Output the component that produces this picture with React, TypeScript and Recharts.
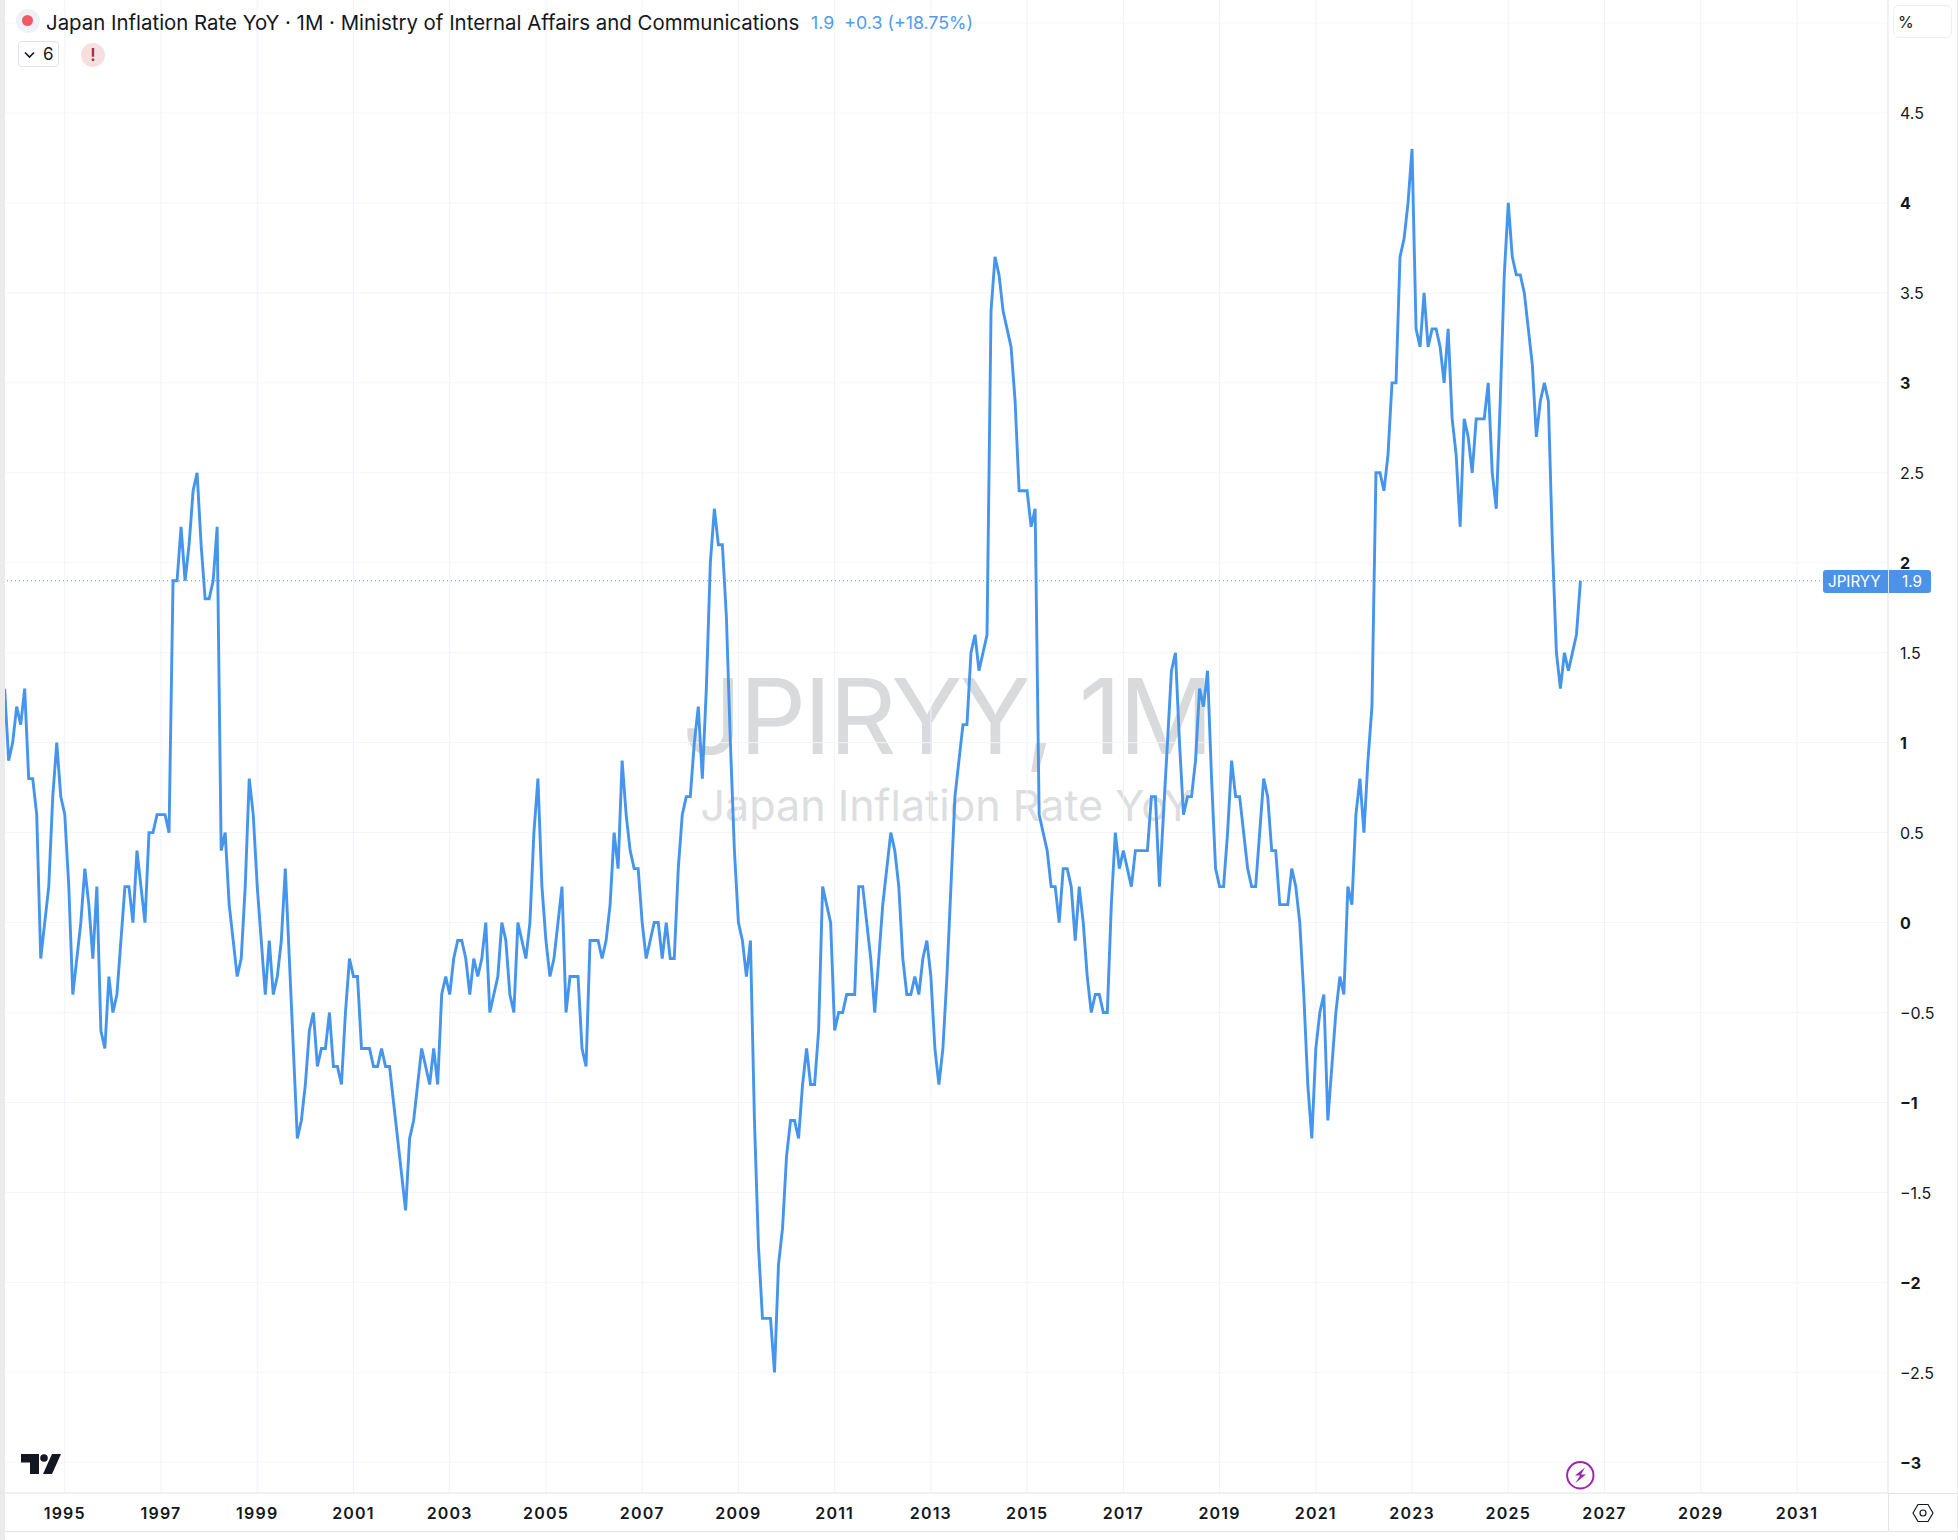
import { LineChart, Line, XAxis, YAxis, CartesianGrid, ReferenceLine } from "recharts";

// monthly values
const y1993 = [1.3, 0.9, 1.0]; // Oct-Dec
const y1994 = [1.2, 1.1, 1.3, 0.8, 0.8, 0.6, -0.2, 0, 0.2, 0.7, 1.0, 0.7];
const y1995 = [0.6, 0.2, -0.4, -0.2, 0, 0.3, 0.1, -0.2, 0.2, -0.6, -0.7, -0.3];
const y1996 = [-0.5, -0.4, -0.1, 0.2, 0.2, 0, 0.4, 0.2, 0, 0.5, 0.5, 0.6];
const y1997 = [0.6, 0.6, 0.5, 1.9, 1.9, 2.2, 1.9, 2.1, 2.4, 2.5, 2.1, 1.8];
const y1998 = [1.8, 1.9, 2.2, 0.4, 0.5, 0.1, -0.1, -0.3, -0.2, 0.2, 0.8, 0.6];
const y1999 = [0.2, -0.1, -0.4, -0.1, -0.4, -0.3, -0.1, 0.3, -0.2, -0.7, -1.2, -1.1];
const y2000 = [-0.9, -0.6, -0.5, -0.8, -0.7, -0.7, -0.5, -0.8, -0.8, -0.9, -0.5, -0.2];
const y2001 = [-0.3, -0.3, -0.7, -0.7, -0.7, -0.8, -0.8, -0.7, -0.8, -0.8, -1.0, -1.2];
const y2002 = [-1.4, -1.6, -1.2, -1.1, -0.9, -0.7, -0.8, -0.9, -0.7, -0.9, -0.4, -0.3];
const y2003 = [-0.4, -0.2, -0.1, -0.1, -0.2, -0.4, -0.2, -0.3, -0.2, 0, -0.5, -0.4];
const y2004 = [-0.3, 0, -0.1, -0.4, -0.5, 0, -0.1, -0.2, 0, 0.5, 0.8, 0.2];
const y2005 = [-0.1, -0.3, -0.2, 0, 0.2, -0.5, -0.3, -0.3, -0.3, -0.7, -0.8, -0.1];
const y2006 = [-0.1, -0.1, -0.2, -0.1, 0.1, 0.5, 0.3, 0.9, 0.6, 0.4, 0.3, 0.3];
const y2007 = [0, -0.2, -0.1, 0, 0, -0.2, 0, -0.2, -0.2, 0.3, 0.6, 0.7];
const y2008 = [0.7, 1.0, 1.2, 0.8, 1.3, 2.0, 2.3, 2.1, 2.1, 1.7, 1.0, 0.4];
const y2009 = [0, -0.1, -0.3, -0.1, -1.1, -1.8, -2.2, -2.2, -2.2, -2.5, -1.9, -1.7];
const y2010 = [-1.3, -1.1, -1.1, -1.2, -0.9, -0.7, -0.9, -0.9, -0.6, 0.2, 0.1, 0];
const y2011 = [-0.6, -0.5, -0.5, -0.4, -0.4, -0.4, 0.2, 0.2, 0, -0.2, -0.5, -0.2];
const y2012 = [0.1, 0.3, 0.5, 0.4, 0.2, -0.2, -0.4, -0.4, -0.3, -0.4, -0.2, -0.1];
const y2013 = [-0.3, -0.7, -0.9, -0.7, -0.3, 0.2, 0.7, 0.9, 1.1, 1.1, 1.5, 1.6];
const y2014 = [1.4, 1.5, 1.6, 3.4, 3.7, 3.6, 3.4, 3.3, 3.2, 2.9, 2.4, 2.4];
const y2015 = [2.4, 2.2, 2.3, 0.6, 0.5, 0.4, 0.2, 0.2, 0, 0.3, 0.3, 0.2];
const y2016 = [-0.1, 0.2, 0, -0.3, -0.5, -0.4, -0.4, -0.5, -0.5, 0.1, 0.5, 0.3];
const y2017 = [0.4, 0.3, 0.2, 0.4, 0.4, 0.4, 0.4, 0.7, 0.7, 0.2, 0.6, 1.0];
const y2018 = [1.4, 1.5, 1.0, 0.6, 0.7, 0.7, 0.9, 1.3, 1.2, 1.4, 0.8, 0.3];
const y2019 = [0.2, 0.2, 0.5, 0.9, 0.7, 0.7, 0.5, 0.3, 0.2, 0.2, 0.5, 0.8];
const y2020 = [0.7, 0.4, 0.4, 0.1, 0.1, 0.1, 0.3, 0.2, 0, -0.4, -0.9, -1.2];
const y2021 = [-0.7, -0.5, -0.4, -1.1, -0.8, -0.5, -0.3, -0.4, 0.2, 0.1, 0.6, 0.8];
const y2022 = [0.5, 0.9, 1.2, 2.5, 2.5, 2.4, 2.6, 3.0, 3.0, 3.7, 3.8, 4.0];
const y2023 = [4.3, 3.3, 3.2, 3.5, 3.2, 3.3, 3.3, 3.2, 3.0, 3.3, 2.8, 2.6];
const y2024 = [2.2, 2.8, 2.7, 2.5, 2.8, 2.8, 2.8, 3.0, 2.5, 2.3, 2.9, 3.6];
const y2025 = [4.0, 3.7, 3.6, 3.6, 3.5, 3.3, 3.1, 2.7, 2.9, 3.0, 2.9, 2.1];
const y2026 = [1.5, 1.3, 1.5, 1.4, 1.5, 1.6, 1.9];

const inflation = [
  ...y1993, ...y1994, ...y1995, ...y1996, ...y1997, ...y1998, ...y1999, ...y2000,
  ...y2001, ...y2002, ...y2003, ...y2004, ...y2005, ...y2006, ...y2007, ...y2008,
  ...y2009, ...y2010, ...y2011, ...y2012, ...y2013, ...y2014, ...y2015, ...y2016,
  ...y2017, ...y2018, ...y2019, ...y2020, ...y2021, ...y2022, ...y2023, ...y2024,
  ...y2025, ...y2026,
];

// month index, 0 = Jan 1995
const FIRST_MONTH = -15;
const data = inflation.map((value, i) => ({ month: FIRST_MONTH + i, value }));

const yearLabels = [1995, 1997, 1999, 2001, 2003, 2005, 2007, 2009, 2011, 2013, 2015, 2017, 2019, 2021, 2023, 2025, 2027, 2029, 2031];
const yearTicks = yearLabels.map((y) => (y - 1995) * 12);
const valueTicks = [-3, -2.5, -2, -1.5, -1, -0.5, 0, 0.5, 1, 1.5, 2, 2.5, 3, 3.5, 4, 4.5];
const gridValues = [...valueTicks, 5];

const INK = "#131722";
const BLUE = "#4695ec";
const AXIS_LINE = "#e0e3eb";
const FONT = "Inter, sans-serif";

const YearTick = ({ x, y, payload }: any) => (
  <text x={x} y={y + 17.5} textAnchor="middle" fontFamily={FONT} fontSize={16} fontWeight={600} letterSpacing={1.2} fill={INK}>
    {1995 + payload.value / 12}
  </text>
);

const ValueTick = ({ y, payload }: any) => {
  const v = payload.value;
  const label = (v < 0 ? "\u2212" : "") + Math.abs(v);
  return (
    <text x={1900} y={y + 6.5} fontFamily={FONT} fontSize={16} fontWeight={Number.isInteger(v) ? 700 : 400} fill={INK}>
      {label}
    </text>
  );
};

const abs = (left: number, top: number, extra: any = {}): any => ({ position: "absolute", left, top, ...extra });

export default function App() {
  return (
    <div style={abs(0, 0, { width: 1958, height: 1540, background: "#fff", overflow: "hidden", fontFamily: FONT })}>
      {/* watermark */}
      <div style={abs(5, 646, { width: 1883, textAlign: "center", fontSize: 105, letterSpacing: -2.8, lineHeight: "140px", color: "#d9dadc", whiteSpace: "nowrap" })}>
        JPIRYY, 1M
      </div>
      <div style={abs(5, 775, { width: 1883, textAlign: "center", fontSize: 43, lineHeight: "60px", color: "#dddee0", whiteSpace: "nowrap" })}>
        Japan Inflation Rate YoY
      </div>

      <div style={abs(0, 0)}>
        <LineChart width={1958} height={1540} data={data} margin={{ top: 0, right: 0, bottom: 0, left: 5 }}>
          <CartesianGrid stroke="#f3f5fa" vertical={false} horizontalValues={gridValues} />
          <CartesianGrid stroke="#f0f3fa" horizontal={false} verticalValues={yearTicks} />
          <XAxis
            dataKey="month"
            type="number"
            domain={[-14.91, 454.7]}
            allowDataOverflow
            ticks={yearTicks}
            interval={0}
            height={47}
            tick={YearTick}
            tickLine={false}
            axisLine={{ stroke: AXIS_LINE }}
          />
          <YAxis
            orientation="right"
            type="number"
            domain={[-3.1707, 5.128]}
            allowDataOverflow
            ticks={valueTicks}
            interval={0}
            width={70}
            tick={ValueTick}
            tickLine={false}
            axisLine={{ stroke: AXIS_LINE }}
          />
          <ReferenceLine y={1.9} stroke="#6f8fb5" strokeDasharray="1 3" />
          <Line type="linear" dataKey="value" stroke={BLUE} strokeWidth={2.9} dot={false} isAnimationActive={false} />
        </LineChart>
      </div>

      {/* panel edges */}
      <div style={abs(0, 0, { width: 5, height: 1540, background: "#ebebeb" })} />
      <div style={abs(1888, 1493, { width: 70, height: 1, background: AXIS_LINE })} />
      <div style={abs(1888, 1493, { width: 1, height: 38, background: AXIS_LINE })} />
      <div style={abs(5, 1531, { width: 1953, height: 1, background: AXIS_LINE })} />
      <div style={abs(1957, 0, { width: 1, height: 1540, background: "#ebebeb" })} />

      {/* legend */}
      <div style={abs(16, 9, { width: 24, height: 24, borderRadius: 12, background: "#eef1f7" })} />
      <div style={abs(22, 15, { width: 11, height: 11, borderRadius: 6, background: "#ee5a62" })} />
      <div style={abs(46, 9, { fontSize: 20.4, lineHeight: "28px", color: INK, whiteSpace: "nowrap" })}>
        Japan Inflation Rate YoY · 1M · Ministry of Internal Affairs and Communications
      </div>
      <div style={abs(811, 10, { fontSize: 17.8, lineHeight: "26px", color: "#4f9bf0", whiteSpace: "nowrap" })}>
        1.9&nbsp; +0.3 (+18.75%)
      </div>
      <div style={abs(18, 41, { width: 41, height: 26, boxSizing: "border-box", border: "1px solid #e0e3eb", borderRadius: 4 })}>
        <svg width={14} height={10} style={abs(4, 8)}>
          <path d="M2 2.5 L6.5 7 L11 2.5" fill="none" stroke={INK} strokeWidth={1.6} />
        </svg>
        <span style={abs(24, 0, { fontSize: 17, lineHeight: "25px", color: INK })}>6</span>
      </div>
      <div style={abs(81, 43, { width: 24, height: 24, borderRadius: 12, background: "#f7dfdf", textAlign: "center", fontSize: 17, lineHeight: "24px", fontWeight: 600, color: "#a92b30" })}>
        !
      </div>

      {/* unit box */}
      <div style={abs(1893, 5, { width: 59, height: 33, boxSizing: "border-box", border: "1px solid #eceef2", borderRadius: 6, paddingLeft: 4, fontSize: 16, lineHeight: "33px", color: INK })}>
        %
      </div>

      {/* last value badge */}
      <div style={abs(1823, 570, { width: 108, height: 23, borderRadius: 3, background: "#4c93e8", color: "#fff", fontSize: 15.2, lineHeight: "23px" })}>
        <span style={abs(5, 0)}>JPIRYY</span>
        <span style={abs(65, 0, { width: 1, height: 23, background: "#dfe6f2" })} />
        <span style={abs(79, 0)}>1.9</span>
      </div>

      {/* logo, event and settings icons */}
      <svg width={1958} height={1540} style={abs(0, 0, { pointerEvents: "none" })}>
        <path d="M21 1454 H39 V1474 H30 V1462.5 H21 Z" fill={INK} />
        <circle cx={44} cy={1458} r={3.8} fill={INK} />
        <path d="M52 1454 H61 L52 1474 H43 Z" fill={INK} />
        <circle cx={1580.3} cy={1475.3} r={13.2} fill="#fff" stroke="#9c27b0" strokeWidth={2} />
        <path d="M1585 1467.5 L1575 1475.5 H1580 L1575.5 1483 L1586 1474.5 H1581 Z" fill="#9c27b0" />
        <path d="M1913 1513 L1918 1504.5 H1928 L1933 1513 L1928 1521.5 H1918 Z" fill="none" stroke={INK} strokeWidth={1.2} />
        <circle cx={1923} cy={1513} r={3} fill="none" stroke={INK} strokeWidth={1.2} />
      </svg>
    </div>
  );
}
